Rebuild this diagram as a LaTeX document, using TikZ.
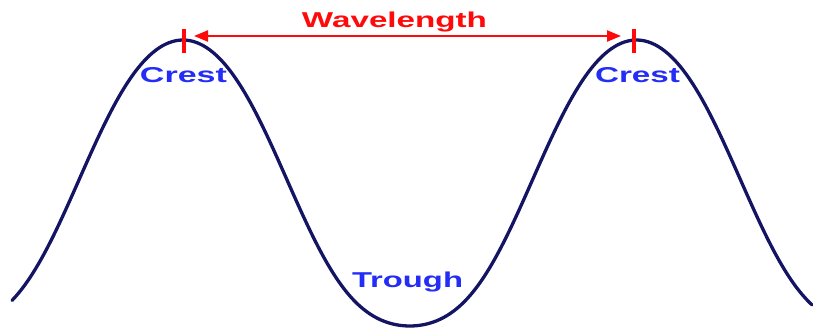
\documentclass[tikz,border=0pt]{standalone}
\usepackage{fontspec}
\setmainfont{Liberation Sans}
\usetikzlibrary{arrows.meta}
\definecolor{wavenavy}{RGB}{20,20,100}
\definecolor{lblblue}{RGB}{35,45,245}
\definecolor{lblred}{RGB}{255,10,10}
\begin{document}
\begin{tikzpicture}[x=1pt,y=-1pt,
  lbl/.style={inner sep=0pt, anchor=base, font=\fontsize{21.5}{21.5}\selectfont\bfseries},
  wave/.style={draw=wavenavy, line width=3.3pt, line cap=round, line join=round},
  tick/.style={draw=lblred, line width=4pt},
  span/.style={draw=lblred, line width=2.2pt, {Triangle[length=14pt,width=11pt]}-{Triangle[length=14pt,width=11pt]}}]
\useasboundingbox (0,0) rectangle (813,328);
% wave
\draw[wave] plot[domain=12:812, samples=240, smooth, variable=\t]
  (\t, {183 - 143*cos(0.79382*(\t-183)) + 18*sin(0.79382*(\t-183))^2*(1-cos(0.79382*(\t-183)))});
% ticks
\coordinate (tLtop) at (183.5,29);
\coordinate (tLbot) at (183.5,53);
\coordinate (tRtop) at (633.5,29);
\coordinate (tRbot) at (633.5,53);
\draw[tick] (tLtop) -- (tLbot);
\draw[tick] (tRtop) -- (tRbot);
% wavelength arrow
\coordinate (aL) at (194,36);
\coordinate (aR) at (621,36);
\draw[span] (aL) -- (aR);
% labels
\node[lbl, text=lblred] (wl) at (394.5,28) {\resizebox{185pt}{\height}{Wavelength}};
\node[lbl, text=lblblue] (crestL) at (183.5,83) {\resizebox{87pt}{\height}{Crest}};
\node[lbl, text=lblblue] (crestR) at (637.5,83) {\resizebox{85pt}{\height}{Crest}};
\node[lbl, text=lblblue] (trough) at (407.5,288) {\resizebox{111pt}{\height}{Trough}};
\end{tikzpicture}
\end{document}
